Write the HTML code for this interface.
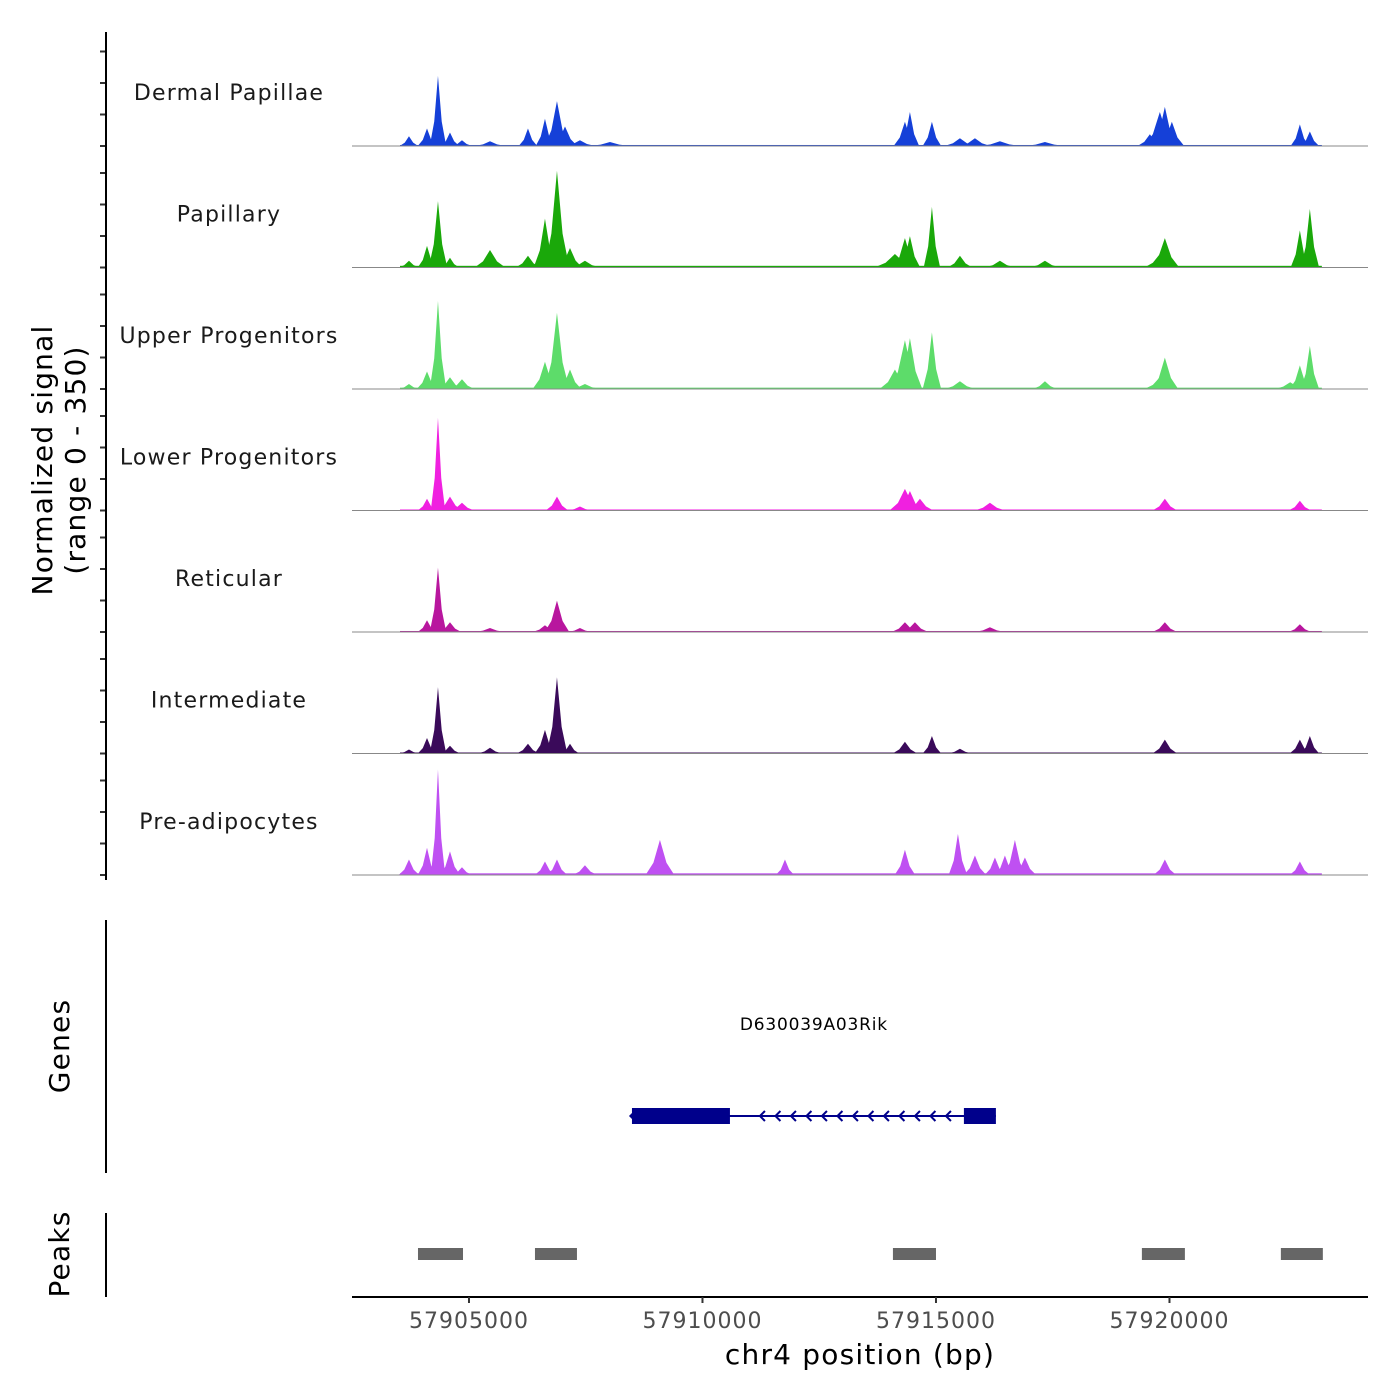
<!DOCTYPE html>
<html><head><meta charset="utf-8"><style>
html,body{margin:0;padding:0;background:#fff;}
svg{display:block;font-family:"DejaVu Sans","Liberation Sans",sans-serif;}
</style></head><body>
<svg id="chart" width="1400" height="1400" viewBox="0 0 1400 1400">
<g id="tracks"></g>
<g id="axes"></g>
</svg>
<script>
const trackNames = ["Dermal Papillae","Papillary","Upper Progenitors","Lower Progenitors","Reticular","Intermediate","Pre-adipocytes"];
const trackColors = ["#1540d8","#1aa80a","#5ddc6a","#f020e0","#b8169e","#3a0a5a","#bf50f2"];
const xTickValues = [57905000,57910000,57915000,57920000];
const xTickLabels = ["57905000","57910000","57915000","57920000"];
const signalRange = [0,350];
const regionStart = 57903523, regionEnd = 57923263;
const floorLevels = [3,5,4,3,3,3,5];
// peaks: [position bp, signal value, half-width bp]
const peaksDermal = [[57903715,29,90],[57904101,52,90],[57904336,208,80],[57904593,40,90],[57904850,17,100],[57905450,14,150],[57906263,52,90],[57906627,81,90],[57906884,133,120],[57907056,58,120],[57907376,17,150],[57908019,12,200],[57914335,72,110],[57914442,101,90],[57914913,72,90],[57915513,23,150],[57915834,23,150],[57916369,14,200],[57917333,12,200],[57919580,35,120],[57919794,101,150],[57919901,116,120],[57920051,72,120],[57922792,64,90],[57923006,43,90]];
const peaksPapillary = [[57903715,20,100],[57904101,64,90],[57904336,197,90],[57904593,29,90],[57905450,52,150],[57906263,35,120],[57906627,145,110],[57906884,287,120],[57907163,58,120],[57907483,20,150],[57914121,40,200],[57914335,87,120],[57914442,93,100],[57914913,180,80],[57915513,35,120],[57916369,20,150],[57917333,20,150],[57919901,87,140],[57919794,40,150],[57922792,110,90],[57923006,174,90]];
const peaksUpper = [[57903715,15,100],[57904101,52,100],[57904336,261,80],[57904593,35,120],[57904850,29,120],[57906627,81,120],[57906884,226,120],[57907163,58,110],[57907483,15,150],[57914121,58,150],[57914335,145,150],[57914442,151,120],[57914913,168,90],[57915513,23,150],[57917333,23,120],[57919794,35,150],[57919901,93,130],[57922585,20,150],[57922792,70,100],[57923006,128,90]];
const peaksLower = [[57904101,35,90],[57904336,275,70],[57904593,41,120],[57904850,23,120],[57906884,41,110],[57907376,12,120],[57914335,64,150],[57914442,58,120],[57914656,35,130],[57916155,23,150],[57919901,35,120],[57922792,29,110]];
const peaksReticular = [[57904101,35,90],[57904336,191,80],[57904593,29,110],[57905450,12,150],[57906627,20,120],[57906884,93,120],[57907376,12,120],[57914335,29,130],[57914549,29,130],[57916155,14,150],[57919901,29,120],[57922792,23,110]];
const peaksIntermediate = [[57903715,12,100],[57904101,46,90],[57904336,197,80],[57904593,23,100],[57905450,17,120],[57906263,29,110],[57906627,70,100],[57906884,226,100],[57907163,29,90],[57914335,35,120],[57914913,52,90],[57915513,14,120],[57919901,41,120],[57922792,41,100],[57923006,52,90]];
const peaksPreadipocytes = [[57903715,46,100],[57904101,81,90],[57904336,313,70],[57904593,70,100],[57904850,23,100],[57906627,40,100],[57906884,46,100],[57907483,29,120],[57909089,104,140],[57911766,46,90],[57914335,75,100],[57915470,122,90],[57915834,58,110],[57916262,52,100],[57916476,58,100],[57916690,104,110],[57916904,52,110],[57919901,46,110],[57922792,40,100]];
const allPeaks = [peaksDermal,peaksPapillary,peaksUpper,peaksLower,peaksReticular,peaksIntermediate,peaksPreadipocytes];
const geneName = "D630039A03Rik";
const geneStart = 57908490, geneEnd = 57916283;
const exons = [[57908490,57910588],[57915598,57916283]];
const peakRegions = [[57903908,57904872],[57906413,57907312],[57914078,57915000],[57919409,57920330],[57922385,57923284]];

const NS="http://www.w3.org/2000/svg";
function xScale(bp){return 352+(bp-57902495)*0.0467;}
const trackH=121.5, baseline0=146;
function yScale(v,i){return baseline0+i*trackH - (v-signalRange[0])/(signalRange[1]-signalRange[0])*118;}
function mk(tag,attrs,parent){const e=document.createElementNS(NS,tag);for(const k in attrs)e.setAttribute(k,attrs[k]);parent.appendChild(e);return e;}
const tracks=document.getElementById('tracks'), axes=document.getElementById('axes');

trackNames.forEach((name,i)=>{
  const g=mk('g',{},tracks);
  
  
  const b=yScale(0,i);
  const fl=mk('rect',{x:xScale(regionStart),y:yScale(floorLevels[i],i),width:xScale(regionEnd)-xScale(regionStart),height:b-yScale(floorLevels[i],i),fill:trackColors[i]},g);
  
  
  allPeaks[i].forEach(p=>{
    const x0=xScale(p[0]-p[2]), x1=xScale(p[0]+p[2]), xc=xScale(p[0]), yt=yScale(p[1],i), ym=yScale(p[1]*0.35,i);
    const w0=xScale(p[0]-p[2]*2.2), w1=xScale(p[0]+p[2]*2.2);
    const poly=mk('polygon',{points:`${w0},${b} ${x0},${ym} ${xc},${yt} ${x1},${ym} ${w1},${b}`,fill:trackColors[i]},g);
    
    
  });
  const bl=mk('line',{x1:352,x2:1368,y1:b,y2:b,stroke:'#888',"stroke-width":1},g);
  
  
  const t=mk('text',{x:229,y:b-46,"text-anchor":"middle","font-size":22,"letter-spacing":"1.2",fill:'#1a1a1a'},g);
  t.textContent=name;
  
  
  for(let k=0;k<4;k++){
    const ty=b-k*31.5;
    const tk=mk('line',{x1:100,x2:106,y1:ty,y2:ty,stroke:'#333',"stroke-width":2},axes);
    
    
  }
});
let e=mk('line',{x1:106,x2:106,y1:32,y2:880,stroke:'#000',"stroke-width":2},axes);


e=mk('text',{transform:'translate(52,460) rotate(-90)',"text-anchor":"middle","font-size":28,"letter-spacing":"1.2"},axes);
e.textContent='Normalized signal';


e=mk('text',{transform:'translate(85,460) rotate(-90)',"text-anchor":"middle","font-size":28,"letter-spacing":"1.2"},axes);
e.textContent='(range 0 - 350)';


e=mk('line',{x1:106,x2:106,y1:920,y2:1173,stroke:'#000',"stroke-width":2},axes);


e=mk('text',{transform:'translate(69,1046) rotate(-90)',"text-anchor":"middle","font-size":28,"letter-spacing":"1.2"},axes);
e.textContent='Genes';


const gg=mk('g',{},axes);


e=mk('line',{x1:xScale(geneStart),x2:xScale(geneEnd),y1:1116,y2:1116,stroke:'#00008b',"stroke-width":2},gg);


exons.forEach(ex=>{
  const r=mk('rect',{x:xScale(ex[0]),y:1108,width:xScale(ex[1])-xScale(ex[0]),height:16,fill:'#00008b'},gg);
  
  
});
for(let ax=xScale(exons[0][1])+30; ax<xScale(exons[1][0])-8; ax+=15.5){
  const a=mk('polyline',{points:`${ax+5},${1111} ${ax},${1116} ${ax+5},${1121}`,fill:'none',stroke:'#00008b',"stroke-width":2},gg);
  
  
}
e=mk('polygon',{points:`${xScale(geneStart)-3},1116 ${xScale(geneStart)+2},1111 ${xScale(geneStart)+2},1121`,fill:'#00008b'},gg);
e=mk('text',{x:(xScale(geneStart)+xScale(geneEnd))/2,y:1030,"text-anchor":"middle","font-size":17,"letter-spacing":"0.8",fill:'#000'},gg);
e.textContent=geneName;


e=mk('line',{x1:106,x2:106,y1:1213,y2:1297,stroke:'#000',"stroke-width":2},axes);


e=mk('text',{transform:'translate(69,1254) rotate(-90)',"text-anchor":"middle","font-size":28,"letter-spacing":"1.2"},axes);
e.textContent='Peaks';


peakRegions.forEach(p=>{
  const r=mk('rect',{x:xScale(p[0]),y:1248,width:xScale(p[1])-xScale(p[0]),height:12,fill:'#666'},axes);
  
  
});
e=mk('line',{x1:352,x2:1368,y1:1297,y2:1297,stroke:'#000',"stroke-width":2},axes);


xTickValues.forEach((v,i)=>{
  const x=xScale(v);
  const t=mk('line',{x1:x,x2:x,y1:1297,y2:1303,stroke:'#333',"stroke-width":2},axes);
  
  
  const l=mk('text',{x:x,y:1328,"text-anchor":"middle","font-size":22,"letter-spacing":"1",fill:'#4d4d4d'},axes);
  l.textContent=xTickLabels[i];
  
  
});
e=mk('text',{x:860,y:1364,"text-anchor":"middle","font-size":28,"letter-spacing":"1.2"},axes);
e.textContent='chr4 position (bp)';


</script>
</body></html>
